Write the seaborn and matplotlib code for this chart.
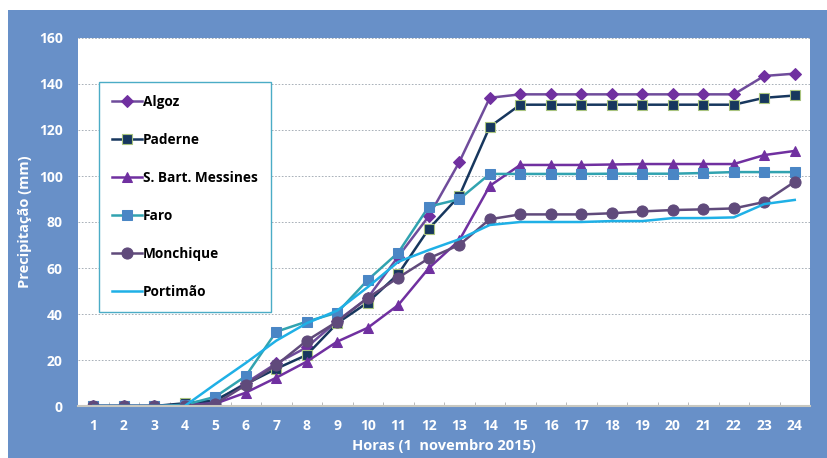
import matplotlib
matplotlib.use('Agg')
import matplotlib.pyplot as plt
import seaborn as sns
import pandas as pd
from matplotlib.patches import Rectangle
from matplotlib.ticker import MultipleLocator

# Dados (precipitação acumulada, mm)
horas = list(range(1, 25))
algoz = [0, 0, 0, 0.8, 2, 10, 18.5, 25.5, 37, 47, 65, 82.5, 106, 134, 135.5, 135.5,
         135.5, 135.5, 135.5, 135.5, 135.5, 135.5, 143.5, 144.5]
paderne = [0, 0, 0, 1.2, 2.5, 9.5, 16.2, 22.2, 36, 45, 57.4, 77, 91.3, 121.4, 131, 131,
           131, 131, 131, 131, 131, 131, 134, 135]
sbart = [0, 0, 0, 0.3, 1, 5.8, 12.3, 19.3, 28, 34, 43.9, 59.9, 72, 95.7, 104.8, 104.8,
         104.8, 105, 105.2, 105.2, 105.2, 105.2, 109.1, 110.9]
faro = [0, 0, 0, 0.5, 4, 13, 32.3, 36.7, 40.6, 54.8, 66.7, 86.7, 89.9, 100.9, 100.9, 100.9,
        100.9, 101, 101, 101, 101.3, 101.7, 101.7, 101.7]
monchique = [0, 0, 0, 0, 0.9, 9.1, 17.8, 28.4, 36.7, 47, 55.8, 64.2, 70, 81.2, 83.3, 83.3,
             83.3, 83.8, 84.6, 85.2, 85.5, 85.9, 88.7, 97.5]
portimao = [0, 0, 0, 0, 9.5, 18.7, 28.4, 36, 41.5, 51.7, 62.7, 67.8, 72.5, 78.7, 80, 80,
            80, 80.4, 80.4, 81.7, 81.7, 82, 87.8, 89.6]

estacoes = ['Algoz', 'Paderne', 'S. Bart. Messines', 'Faro', 'Monchique', 'Portimão']
valores = [algoz, paderne, sbart, faro, monchique, portimao]

# Estilos por estação (cor da linha, marcador, cor do marcador, tamanho, borda)
estilos = {
    'Algoz': dict(color='#6f4c9b', marker='D', markerfacecolor='#7030a0',
                  markeredgecolor='#7030a0', markersize=6),
    'Paderne': dict(color='#17375e', marker='s', markerfacecolor='#17375e',
                    markeredgecolor='#a9c47f', markersize=7.5, markeredgewidth=0.8),
    'S. Bart. Messines': dict(color='#7030a0', marker='^', markerfacecolor='#7030a0',
                              markeredgecolor='#7030a0', markersize=7),
    'Faro': dict(color='#31a3b0', marker='s', markerfacecolor='#4a86c5',
                 markeredgecolor='#4a86c5', markersize=7.5),
    'Monchique': dict(color='#604a7b', marker='o', markerfacecolor='#604a7b',
                      markeredgecolor='#604a7b', markersize=8),
    'Portimão': dict(color='#1fb0e6', marker=None),
}

df = pd.DataFrame({'hora': horas * len(estacoes),
                   'estacao': [e for e in estacoes for _ in horas],
                   'mm': [v for serie in valores for v in serie]})

AZUL = '#6890c8'
BRANCO = 'white'
plt.rcParams['font.family'] = ['Open Sans', 'DejaVu Sans']

fig = plt.figure(figsize=(8.27, 4.58), dpi=100, facecolor='white')
fig.patches.append(Rectangle((8 / 827, 0), 1 - 8 / 827, (458 - 10) / 458,
                             transform=fig.transFigure, facecolor=AZUL,
                             edgecolor='none', zorder=-1))
ax = fig.add_axes([78 / 827, 52 / 458, 732 / 827, 368 / 458])
ax.set_facecolor('white')

for est in estacoes:
    sub = df[df['estacao'] == est]
    sns.lineplot(data=sub, x='hora', y='mm', ax=ax, label=est, linewidth=1.8, **estilos[est])

ax.set_xlim(0.5, 24.5)
ax.set_ylim(0, 160)
ax.set_xticks(horas)
ax.set_xticks([h + 0.5 for h in horas[:-1]], minor=True)
ax.yaxis.set_major_locator(MultipleLocator(20))
ax.grid(axis='y', color='#9aa3ad', linestyle=(0, (2, 2)), linewidth=0.6)
ax.set_axisbelow(True)

for lado in ['top', 'left', 'right']:
    ax.spines[lado].set_visible(False)
ax.spines['bottom'].set_color('#c8c8c0')
ax.spines['bottom'].set_linewidth(1.5)

ax.tick_params(axis='both', which='major', length=0, labelcolor=BRANCO, labelsize=10)
ax.tick_params(axis='y', pad=11)
ax.tick_params(axis='x', pad=9)
ax.tick_params(axis='x', which='minor', direction='in', length=3, color='#b0b0b0')
for lbl in ax.get_xticklabels() + ax.get_yticklabels():
    lbl.set_fontweight('bold')

ax.set_xlabel('Horas (1  novembro 2015)', color=BRANCO, fontsize=10.5, fontweight='bold', labelpad=5)
ax.set_ylabel('Precipitação (mm)', color=BRANCO, fontsize=10.5, fontweight='bold', labelpad=5)

leg = ax.legend(loc='upper left', bbox_to_anchor=(0.0287, 0.880), frameon=True,
                fancybox=False, labelspacing=1.76, handlelength=2.2, handletextpad=0.1,
                borderpad=0.95, borderaxespad=0, prop={'weight': 'bold', 'size': 9.8})
leg.get_frame().set_edgecolor('#4bacc6')
leg.get_frame().set_linewidth(1.0)
leg.get_frame().set_alpha(1)

fig.savefig('out.png', dpi=100, facecolor=fig.get_facecolor())
